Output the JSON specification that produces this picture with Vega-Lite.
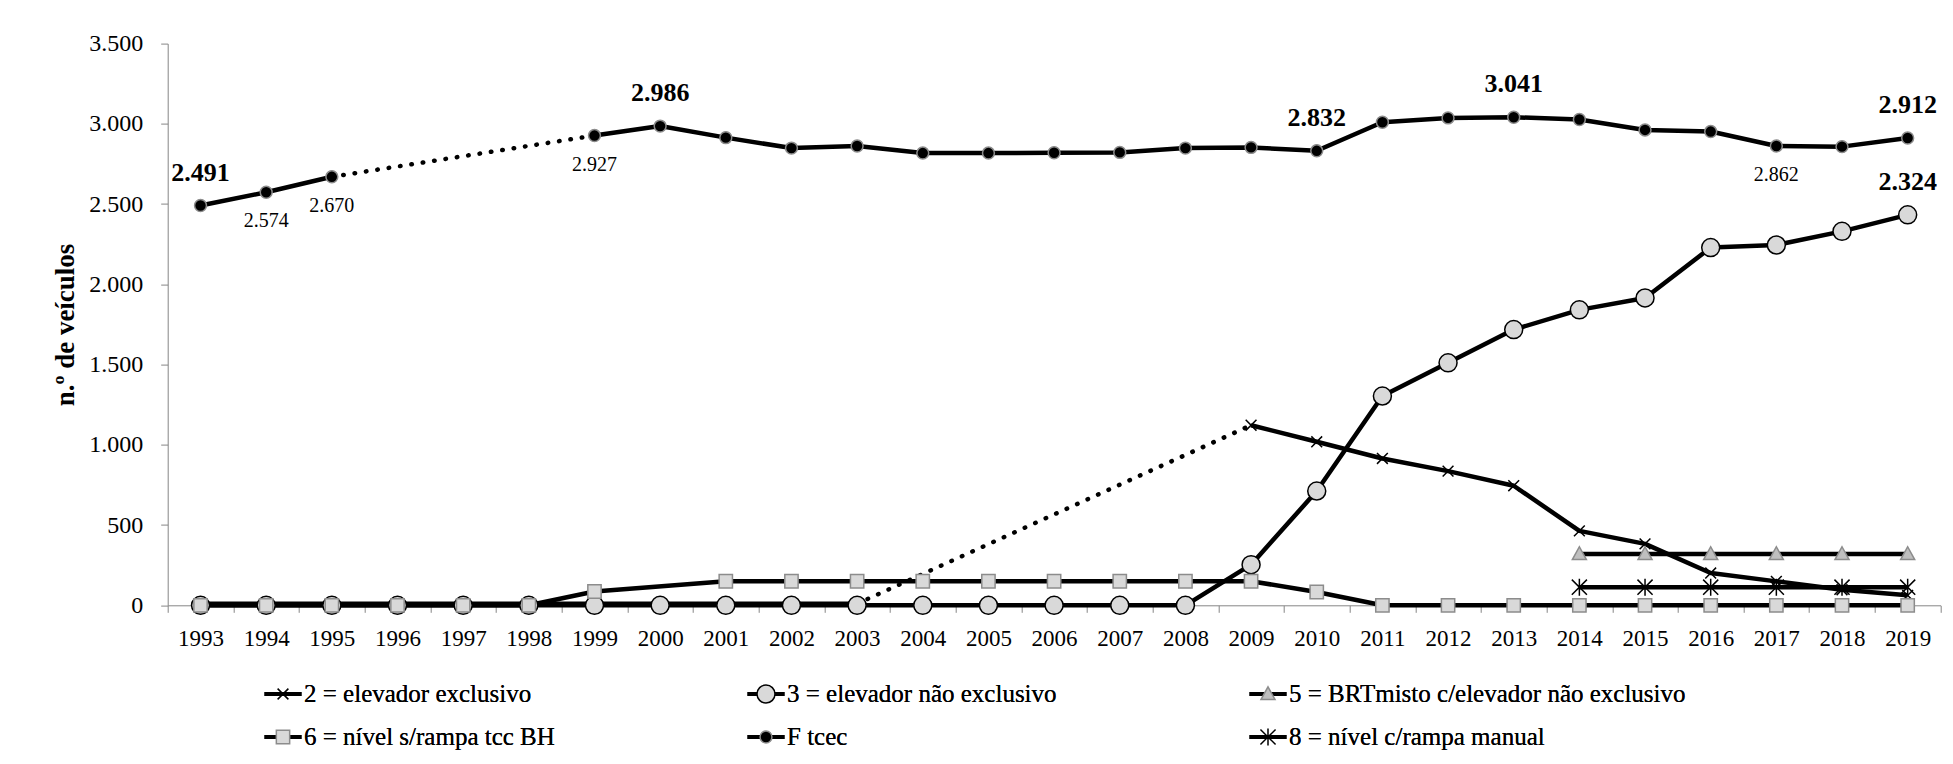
{
  "$schema": "https://vega.github.io/schema/vega-lite/v6.json",
  "autosize": {"type": "none"},
  "width": 1772.8,
  "height": 561.7,
  "padding": {"left": 167.7, "top": 43.6, "right": 12.5, "bottom": 158.7},
  "background": "white",
  "config": {
    "font": "Liberation Serif",
    "view": {"stroke": null},
    "axis": {"labelFont": "Liberation Serif", "titleFont": "Liberation Serif", "labelColor": "black", "titleColor": "black"},
    "legend": {"labelFont": "Liberation Serif"}
  },
  "datasets": {
    "points": [
      {"s": "2 = elevador exclusivo", "year": 1993, "value": 10, "part": 1},
      {"s": "2 = elevador exclusivo", "year": 1994, "value": 10, "part": 1},
      {"s": "2 = elevador exclusivo", "year": 1995, "value": 10, "part": 1},
      {"s": "2 = elevador exclusivo", "year": 1996, "value": 10, "part": 1},
      {"s": "2 = elevador exclusivo", "year": 1997, "value": 10, "part": 1},
      {"s": "2 = elevador exclusivo", "year": 1998, "value": 10, "part": 1},
      {"s": "2 = elevador exclusivo", "year": 1999, "value": 10, "part": 1},
      {"s": "2 = elevador exclusivo", "year": 2000, "value": 10, "part": 1},
      {"s": "2 = elevador exclusivo", "year": 2001, "value": 10, "part": 1},
      {"s": "2 = elevador exclusivo", "year": 2002, "value": 10, "part": 1},
      {"s": "2 = elevador exclusivo", "year": 2003, "value": 10, "part": 1},
      {"s": "2 = elevador exclusivo", "year": 2009, "value": 1122, "part": 2},
      {"s": "2 = elevador exclusivo", "year": 2010, "value": 1019, "part": 2},
      {"s": "2 = elevador exclusivo", "year": 2011, "value": 915, "part": 2},
      {"s": "2 = elevador exclusivo", "year": 2012, "value": 836, "part": 2},
      {"s": "2 = elevador exclusivo", "year": 2013, "value": 745, "part": 2},
      {"s": "2 = elevador exclusivo", "year": 2014, "value": 464, "part": 2},
      {"s": "2 = elevador exclusivo", "year": 2015, "value": 383, "part": 2},
      {"s": "2 = elevador exclusivo", "year": 2016, "value": 201, "part": 2},
      {"s": "2 = elevador exclusivo", "year": 2017, "value": 149, "part": 2},
      {"s": "2 = elevador exclusivo", "year": 2018, "value": 97, "part": 2},
      {"s": "2 = elevador exclusivo", "year": 2019, "value": 62, "part": 2},
      {"s": "3 = elevador não exclusivo", "year": 1993, "value": 0, "part": 1},
      {"s": "3 = elevador não exclusivo", "year": 1994, "value": 0, "part": 1},
      {"s": "3 = elevador não exclusivo", "year": 1995, "value": 0, "part": 1},
      {"s": "3 = elevador não exclusivo", "year": 1996, "value": 0, "part": 1},
      {"s": "3 = elevador não exclusivo", "year": 1997, "value": 0, "part": 1},
      {"s": "3 = elevador não exclusivo", "year": 1998, "value": 0, "part": 1},
      {"s": "3 = elevador não exclusivo", "year": 1999, "value": 0, "part": 1},
      {"s": "3 = elevador não exclusivo", "year": 2000, "value": 0, "part": 1},
      {"s": "3 = elevador não exclusivo", "year": 2001, "value": 0, "part": 1},
      {"s": "3 = elevador não exclusivo", "year": 2002, "value": 0, "part": 1},
      {"s": "3 = elevador não exclusivo", "year": 2003, "value": 0, "part": 1},
      {"s": "3 = elevador não exclusivo", "year": 2004, "value": 0, "part": 1},
      {"s": "3 = elevador não exclusivo", "year": 2005, "value": 0, "part": 1},
      {"s": "3 = elevador não exclusivo", "year": 2006, "value": 0, "part": 1},
      {"s": "3 = elevador não exclusivo", "year": 2007, "value": 0, "part": 1},
      {"s": "3 = elevador não exclusivo", "year": 2008, "value": 0, "part": 1},
      {"s": "3 = elevador não exclusivo", "year": 2009, "value": 253, "part": 1},
      {"s": "3 = elevador não exclusivo", "year": 2010, "value": 712, "part": 1},
      {"s": "3 = elevador não exclusivo", "year": 2011, "value": 1304, "part": 1},
      {"s": "3 = elevador não exclusivo", "year": 2012, "value": 1511, "part": 1},
      {"s": "3 = elevador não exclusivo", "year": 2013, "value": 1718, "part": 1},
      {"s": "3 = elevador não exclusivo", "year": 2014, "value": 1841, "part": 1},
      {"s": "3 = elevador não exclusivo", "year": 2015, "value": 1915, "part": 1},
      {"s": "3 = elevador não exclusivo", "year": 2016, "value": 2229, "part": 1},
      {"s": "3 = elevador não exclusivo", "year": 2017, "value": 2245, "part": 1},
      {"s": "3 = elevador não exclusivo", "year": 2018, "value": 2330, "part": 1},
      {"s": "3 = elevador não exclusivo", "year": 2019, "value": 2433, "part": 1},
      {"s": "5 = BRTmisto c/elevador não exclusivo", "year": 2014, "value": 320, "part": 1},
      {"s": "5 = BRTmisto c/elevador não exclusivo", "year": 2015, "value": 320, "part": 1},
      {"s": "5 = BRTmisto c/elevador não exclusivo", "year": 2016, "value": 320, "part": 1},
      {"s": "5 = BRTmisto c/elevador não exclusivo", "year": 2017, "value": 320, "part": 1},
      {"s": "5 = BRTmisto c/elevador não exclusivo", "year": 2018, "value": 320, "part": 1},
      {"s": "5 = BRTmisto c/elevador não exclusivo", "year": 2019, "value": 320, "part": 1},
      {"s": "6 = nível s/rampa tcc BH", "year": 1993, "value": 0, "part": 1},
      {"s": "6 = nível s/rampa tcc BH", "year": 1994, "value": 0, "part": 1},
      {"s": "6 = nível s/rampa tcc BH", "year": 1995, "value": 0, "part": 1},
      {"s": "6 = nível s/rampa tcc BH", "year": 1996, "value": 0, "part": 1},
      {"s": "6 = nível s/rampa tcc BH", "year": 1997, "value": 0, "part": 1},
      {"s": "6 = nível s/rampa tcc BH", "year": 1998, "value": 0, "part": 1},
      {"s": "6 = nível s/rampa tcc BH", "year": 1999, "value": 86, "part": 1},
      {"s": "6 = nível s/rampa tcc BH", "year": 2001, "value": 150, "part": 1},
      {"s": "6 = nível s/rampa tcc BH", "year": 2002, "value": 150, "part": 1},
      {"s": "6 = nível s/rampa tcc BH", "year": 2003, "value": 150, "part": 1},
      {"s": "6 = nível s/rampa tcc BH", "year": 2004, "value": 150, "part": 1},
      {"s": "6 = nível s/rampa tcc BH", "year": 2005, "value": 150, "part": 1},
      {"s": "6 = nível s/rampa tcc BH", "year": 2006, "value": 150, "part": 1},
      {"s": "6 = nível s/rampa tcc BH", "year": 2007, "value": 150, "part": 1},
      {"s": "6 = nível s/rampa tcc BH", "year": 2008, "value": 150, "part": 1},
      {"s": "6 = nível s/rampa tcc BH", "year": 2009, "value": 150, "part": 1},
      {"s": "6 = nível s/rampa tcc BH", "year": 2010, "value": 83, "part": 1},
      {"s": "6 = nível s/rampa tcc BH", "year": 2011, "value": 0, "part": 1},
      {"s": "6 = nível s/rampa tcc BH", "year": 2012, "value": 0, "part": 1},
      {"s": "6 = nível s/rampa tcc BH", "year": 2013, "value": 0, "part": 1},
      {"s": "6 = nível s/rampa tcc BH", "year": 2014, "value": 0, "part": 1},
      {"s": "6 = nível s/rampa tcc BH", "year": 2015, "value": 0, "part": 1},
      {"s": "6 = nível s/rampa tcc BH", "year": 2016, "value": 0, "part": 1},
      {"s": "6 = nível s/rampa tcc BH", "year": 2017, "value": 0, "part": 1},
      {"s": "6 = nível s/rampa tcc BH", "year": 2018, "value": 0, "part": 1},
      {"s": "6 = nível s/rampa tcc BH", "year": 2019, "value": 0, "part": 1},
      {"s": "F tcec", "year": 1993, "value": 2491, "part": 1},
      {"s": "F tcec", "year": 1994, "value": 2574, "part": 1},
      {"s": "F tcec", "year": 1995, "value": 2670, "part": 1},
      {"s": "F tcec", "year": 1999, "value": 2927, "part": 2},
      {"s": "F tcec", "year": 2000, "value": 2986, "part": 2},
      {"s": "F tcec", "year": 2001, "value": 2914, "part": 2},
      {"s": "F tcec", "year": 2002, "value": 2849, "part": 2},
      {"s": "F tcec", "year": 2003, "value": 2862, "part": 2},
      {"s": "F tcec", "year": 2004, "value": 2818, "part": 2},
      {"s": "F tcec", "year": 2005, "value": 2818, "part": 2},
      {"s": "F tcec", "year": 2006, "value": 2820, "part": 2},
      {"s": "F tcec", "year": 2007, "value": 2822, "part": 2},
      {"s": "F tcec", "year": 2008, "value": 2849, "part": 2},
      {"s": "F tcec", "year": 2009, "value": 2853, "part": 2},
      {"s": "F tcec", "year": 2010, "value": 2832, "part": 2},
      {"s": "F tcec", "year": 2011, "value": 3010, "part": 2},
      {"s": "F tcec", "year": 2012, "value": 3037, "part": 2},
      {"s": "F tcec", "year": 2013, "value": 3041, "part": 2},
      {"s": "F tcec", "year": 2014, "value": 3027, "part": 2},
      {"s": "F tcec", "year": 2015, "value": 2962, "part": 2},
      {"s": "F tcec", "year": 2016, "value": 2952, "part": 2},
      {"s": "F tcec", "year": 2017, "value": 2862, "part": 2},
      {"s": "F tcec", "year": 2018, "value": 2858, "part": 2},
      {"s": "F tcec", "year": 2019, "value": 2912, "part": 2},
      {"s": "8 = nível c/rampa manual", "year": 2014, "value": 113, "part": 1},
      {"s": "8 = nível c/rampa manual", "year": 2015, "value": 113, "part": 1},
      {"s": "8 = nível c/rampa manual", "year": 2016, "value": 113, "part": 1},
      {"s": "8 = nível c/rampa manual", "year": 2017, "value": 113, "part": 1},
      {"s": "8 = nível c/rampa manual", "year": 2018, "value": 113, "part": 1},
      {"s": "8 = nível c/rampa manual", "year": 2019, "value": 113, "part": 1}
    ],
    "gaps": [
      {"s": "F tcec", "year": 1995, "value": 2670},
      {"s": "F tcec", "year": 1999, "value": 2927},
      {"s": "2 = elevador exclusivo", "year": 2003, "value": 10},
      {"s": "2 = elevador exclusivo", "year": 2009, "value": 1122}
    ],
    "labelsAbove": [
      {"year": 1993, "value": 2491, "label": "2.491"},
      {"year": 2000, "value": 2986, "label": "2.986"},
      {"year": 2010, "value": 2832, "label": "2.832"},
      {"year": 2013, "value": 3041, "label": "3.041"},
      {"year": 2019, "value": 2912, "label": "2.912"},
      {"year": 2019, "value": 2433, "label": "2.324"}
    ],
    "labelsBelow": [
      {"year": 1994, "value": 2574, "label": "2.574"},
      {"year": 1995, "value": 2670, "label": "2.670"},
      {"year": 1999, "value": 2927, "label": "2.927"},
      {"year": 2017, "value": 2862, "label": "2.862"}
    ]
  },
  "resolve": {"legend": {"fill": "independent", "stroke": "independent", "shape": "independent"}},
  "layer": [
    {
      "data": {"name": "points"},
      "mark": {"type": "line", "strokeWidth": 4.5, "strokeJoin": "round"},
      "encoding": {
        "x": {
          "field": "year", "type": "ordinal", "bandPosition": 0.5,
          "scale": {"type": "band", "paddingInner": 0, "paddingOuter": 0,
            "domain": [1993,1994,1995,1996,1997,1998,1999,2000,2001,2002,2003,2004,2005,2006,2007,2008,2009,2010,2011,2012,2013,2014,2015,2016,2017,2018,2019]},
          "axis": {"title": null, "labelAngle": 0, "labelFont": "Liberation Serif", "labelFontSize": 23, "labelPadding": 15, "tickSize": 7, "tickBand": "extent",
            "domainColor": "#868686", "tickColor": "#868686", "grid": false, "labelOverlap": false, "labelFlush": false}
        },
        "y": {
          "field": "value", "type": "quantitative",
          "scale": {"domain": [0, 3500], "nice": false, "zero": true},
          "axis": {"values": [0,500,1000,1500,2000,2500,3000,3500],
            "labelExpr": "replace(format(datum.value, ','), ',', '.')",
            "title": "n.º de veículos", "titleFont": "Liberation Serif", "titleFontWeight": "bold", "titleFontSize": 27, "titlePadding": 9,
            "labelFont": "Liberation Serif", "labelFontSize": 24, "labelPadding": 18, "tickSize": 7, "grid": false,
            "domainColor": "#868686", "tickColor": "#868686"}
        },
        "color": {
          "field": "s", "type": "nominal",
          "scale": {"domain": ["2 = elevador exclusivo", "3 = elevador não exclusivo", "5 = BRTmisto c/elevador não exclusivo", "6 = nível s/rampa tcc BH", "F tcec", "8 = nível c/rampa manual"],
            "range": ["black", "black", "black", "black", "black", "black"]},
          "legend": {
            "title": null, "orient": "none", "legendX": 96.3, "legendY": 629.4, "direction": "horizontal", "columns": 3,
            "gridAlign": "each", "columnPadding": 192, "rowPadding": 1, "clipHeight": 42, "padding": 0,
            "symbolType": "M-1,-0.07H1V0.07H-1Z", "symbolSize": 1296, "symbolStrokeWidth": 1.5,
            "symbolFillColor": "black", "symbolStrokeColor": "black",
            "labelFont": "Liberation Serif", "labelFontSize": 25, "labelColor": "black", "labelOffset": 2, "labelLimit": 800,
            "encode": {"symbols": {"update": {"fill": {"value": "black"}, "stroke": {"value": "black"}, "opacity": {"value": 1}}}}
          }
        },
        "detail": {"field": "part", "type": "nominal"}
      }
    },
    {
      "data": {"name": "gaps"},
      "mark": {"type": "line", "strokeWidth": 4.5, "strokeDash": [0.5, 11], "strokeCap": "round", "color": "black"},
      "encoding": {
        "x": {"field": "year", "type": "ordinal", "bandPosition": 0.5},
        "y": {"field": "value", "type": "quantitative"},
        "detail": {"field": "s", "type": "nominal"}
      }
    },
    {
      "data": {"name": "points"},
      "mark": {"type": "point", "size": 1296, "opacity": 1, "strokeWidth": 1.5, "fillOpacity": 1, "strokeOpacity": 1},
      "encoding": {
        "x": {"field": "year", "type": "ordinal", "bandPosition": 0.5},
        "y": {"field": "value", "type": "quantitative"},
        "shape": {
          "field": "s", "type": "nominal",
          "scale": {"domain": ["2 = elevador exclusivo", "3 = elevador não exclusivo", "5 = BRTmisto c/elevador não exclusivo", "6 = nível s/rampa tcc BH", "F tcec", "8 = nível c/rampa manual"],
            "range": [
              "M-0.3,-0.3L0.3,0.3M0.3,-0.3L-0.3,0.3",
              "M-0.5,0A0.5,0.5,0,1,0,0.5,0A0.5,0.5,0,1,0,-0.5,0Z",
              "M0,-0.4L0.39,0.31L-0.39,0.31Z",
              "M-0.37,-0.37H0.37V0.37H-0.37Z",
              "M-0.33,0A0.33,0.33,0,1,0,0.33,0A0.33,0.33,0,1,0,-0.33,0Z",
              "M-0.42,-0.42L0.42,0.42M0.42,-0.42L-0.42,0.42M0,-0.47V0.47"
            ]},
          "legend": {
            "title": null, "orient": "none", "legendX": 96.3, "legendY": 629.4, "direction": "horizontal", "columns": 3,
            "gridAlign": "each", "columnPadding": 192, "rowPadding": 1, "clipHeight": 42, "padding": 0,
            "symbolSize": 1296, "symbolStrokeWidth": 1.5,
            "labelFont": "Liberation Serif", "labelFontSize": 25, "labelColor": "black", "labelOffset": 2, "labelLimit": 800
          }
        },
        "fill": {
          "field": "s", "type": "nominal",
          "scale": {"domain": ["2 = elevador exclusivo", "3 = elevador não exclusivo", "5 = BRTmisto c/elevador não exclusivo", "6 = nível s/rampa tcc BH", "F tcec", "8 = nível c/rampa manual"],
            "range": ["transparent", "#d9d9d9", "#bfbfbf", "#d9d9d9", "black", "transparent"]},
          "legend": {
            "title": null, "orient": "none", "legendX": 96.3, "legendY": 629.4, "direction": "horizontal", "columns": 3,
            "gridAlign": "each", "columnPadding": 192, "rowPadding": 1, "clipHeight": 42, "padding": 0,
            "symbolSize": 1296, "symbolStrokeWidth": 1.5,
            "labelFont": "Liberation Serif", "labelFontSize": 25, "labelColor": "black", "labelOffset": 2, "labelLimit": 800
          }
        },
        "stroke": {
          "field": "s", "type": "nominal",
          "scale": {"domain": ["2 = elevador exclusivo", "3 = elevador não exclusivo", "5 = BRTmisto c/elevador não exclusivo", "6 = nível s/rampa tcc BH", "F tcec", "8 = nível c/rampa manual"],
            "range": ["black", "black", "#8c8c8c", "#8c8c8c", "#8c8c8c", "black"]},
          "legend": {
            "title": null, "orient": "none", "legendX": 96.3, "legendY": 629.4, "direction": "horizontal", "columns": 3,
            "gridAlign": "each", "columnPadding": 192, "rowPadding": 1, "clipHeight": 42, "padding": 0,
            "symbolSize": 1296, "symbolStrokeWidth": 1.5,
            "labelFont": "Liberation Serif", "labelFontSize": 25, "labelColor": "black", "labelOffset": 2, "labelLimit": 800
          }
        }
      }
    },
    {
      "data": {"name": "labelsAbove"},
      "mark": {"type": "text", "dy": -33, "fontWeight": "bold", "fontSize": 26, "font": "Liberation Serif", "color": "black", "baseline": "middle", "align": "center"},
      "encoding": {
        "x": {"field": "year", "type": "ordinal", "bandPosition": 0.5},
        "y": {"field": "value", "type": "quantitative"},
        "text": {"field": "label", "type": "nominal"}
      }
    },
    {
      "data": {"name": "labelsBelow"},
      "mark": {"type": "text", "dy": 29, "fontSize": 20, "font": "Liberation Serif", "color": "black", "baseline": "middle", "align": "center"},
      "encoding": {
        "x": {"field": "year", "type": "ordinal", "bandPosition": 0.5},
        "y": {"field": "value", "type": "quantitative"},
        "text": {"field": "label", "type": "nominal"}
      }
    }
  ]
}
